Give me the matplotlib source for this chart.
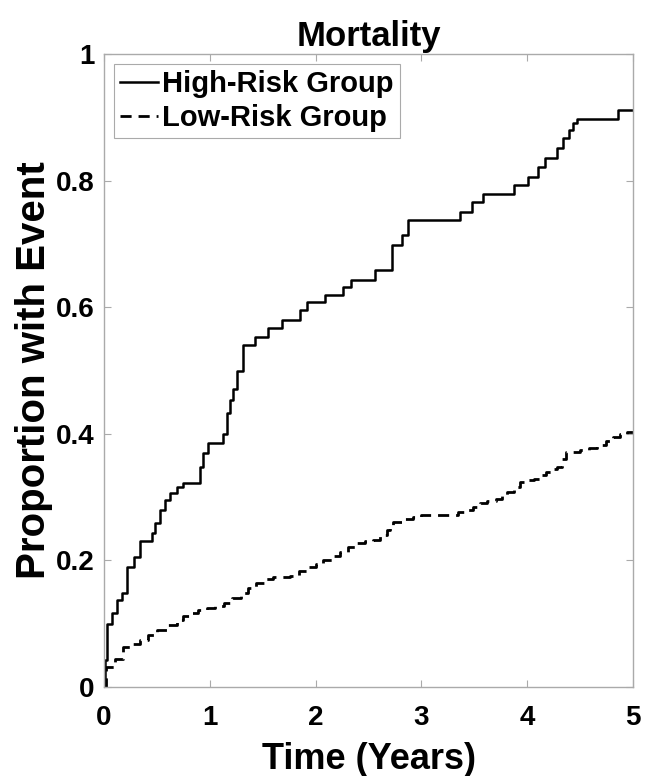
import numpy as np
import matplotlib
matplotlib.use("Agg")
import matplotlib.pyplot as plt

# high-risk group: event times (years) and cumulative proportion
high_t = [0.0, 0.01, 0.03, 0.08, 0.12, 0.17, 0.22, 0.28, 0.34, 0.45, 0.48,
          0.53, 0.58, 0.62, 0.69, 0.75, 0.91, 0.94, 0.98, 1.0, 1.12, 1.16,
          1.19, 1.22, 1.26, 1.31, 1.43, 1.55, 1.68, 1.85, 1.92, 2.09, 2.26,
          2.33, 2.56, 2.72, 2.82, 2.87, 3.36, 3.48, 3.58, 3.87, 4.01, 4.1,
          4.17, 4.28, 4.34, 4.39, 4.43, 4.47, 4.86]
high_p = [0.0, 0.043, 0.1, 0.117, 0.137, 0.148, 0.19, 0.205, 0.23, 0.243,
          0.259, 0.28, 0.295, 0.306, 0.316, 0.322, 0.348, 0.37, 0.385, 0.385,
          0.4, 0.433, 0.453, 0.47, 0.5, 0.54, 0.553, 0.567, 0.58, 0.595, 0.608,
          0.62, 0.632, 0.643, 0.659, 0.698, 0.714, 0.738, 0.75, 0.766, 0.779,
          0.793, 0.806, 0.821, 0.836, 0.852, 0.867, 0.88, 0.891, 0.897, 0.912]

# low-risk group
low_t = [0.0, 0.02, 0.1, 0.18, 0.26, 0.34, 0.42, 0.5, 0.6, 0.69, 0.75, 0.81,
         0.89, 0.97, 1.05, 1.13, 1.21, 1.29, 1.36, 1.44, 1.52, 1.6, 1.76,
         1.84, 1.92, 2.0, 2.07, 2.15, 2.23, 2.31, 2.39, 2.47, 2.54, 2.61,
         2.67, 2.7, 2.73, 2.82, 2.92, 3.0, 3.08, 3.35, 3.43, 3.49, 3.55, 3.62,
         3.7, 3.76, 3.81, 3.87, 3.93, 4.0, 4.06, 4.12, 4.18, 4.23, 4.28, 4.33,
         4.37, 4.5, 4.58, 4.66, 4.74, 4.81, 4.88, 4.94]
low_p = [0.0, 0.032, 0.045, 0.063, 0.068, 0.074, 0.082, 0.09, 0.098, 0.106,
         0.112, 0.117, 0.121, 0.125, 0.128, 0.132, 0.14, 0.148, 0.156, 0.164,
         0.17, 0.174, 0.176, 0.183, 0.19, 0.195, 0.2, 0.207, 0.214, 0.221,
         0.227, 0.23, 0.232, 0.24, 0.248, 0.255, 0.261, 0.266, 0.269, 0.271,
         0.272, 0.276, 0.28, 0.285, 0.29, 0.294, 0.297, 0.302, 0.308, 0.316,
         0.324, 0.327, 0.329, 0.335, 0.34, 0.344, 0.348, 0.36, 0.372, 0.374,
         0.378, 0.382, 0.389, 0.395, 0.399, 0.403]

t_end = 5.0

plt.rcParams["font.family"] = ["Liberation Sans", "DejaVu Sans"]
plt.rcParams["font.weight"] = "bold"

fig = plt.figure(figsize=(6.46, 7.76), dpi=100)
ax = fig.add_axes([0.161, 0.1147, 0.819, 0.8157])

ax.step(high_t + [t_end], high_p + [high_p[-1]], where="post",
        color="black", lw=1.8, label="High-Risk Group")
ax.step(low_t + [t_end], low_p + [low_p[-1]], where="post",
        color="black", lw=2.0, linestyle=(0, (4, 2.5)), label="Low-Risk Group")

ax.set_xlim(0, 5)
ax.set_ylim(0, 1)
ax.set_xticks(range(6))
ax.set_yticks([0, 0.2, 0.4, 0.6, 0.8, 1])
ax.set_yticklabels(["0", "0.2", "0.4", "0.6", "0.8", "1"])
ax.tick_params(direction="in", length=5, width=0.8, color="#aaaaaa",
               labelsize=20, top=True, right=True)
ax.tick_params(axis="x", pad=13)
ax.tick_params(axis="y", pad=7)
for s in ax.spines.values():
    s.set_color("#aaaaaa")
    s.set_linewidth(1.0)

ax.set_title("Mortality", fontsize=25, fontweight="bold", pad=6)
ax.set_xlabel("Time (Years)", fontsize=26, fontweight="bold", labelpad=8)
ax.set_ylabel("Proportion with Event", fontsize=29, fontweight="bold", labelpad=2)

leg = ax.legend(loc="upper left", fontsize=21, fancybox=False,
                edgecolor="#aaaaaa", framealpha=1, handlelength=1.3,
                handletextpad=0.15, borderaxespad=0.35, borderpad=0.2,
                labelspacing=0.2)
leg.get_frame().set_linewidth(0.8)

fig.savefig("out.png", dpi=100)
